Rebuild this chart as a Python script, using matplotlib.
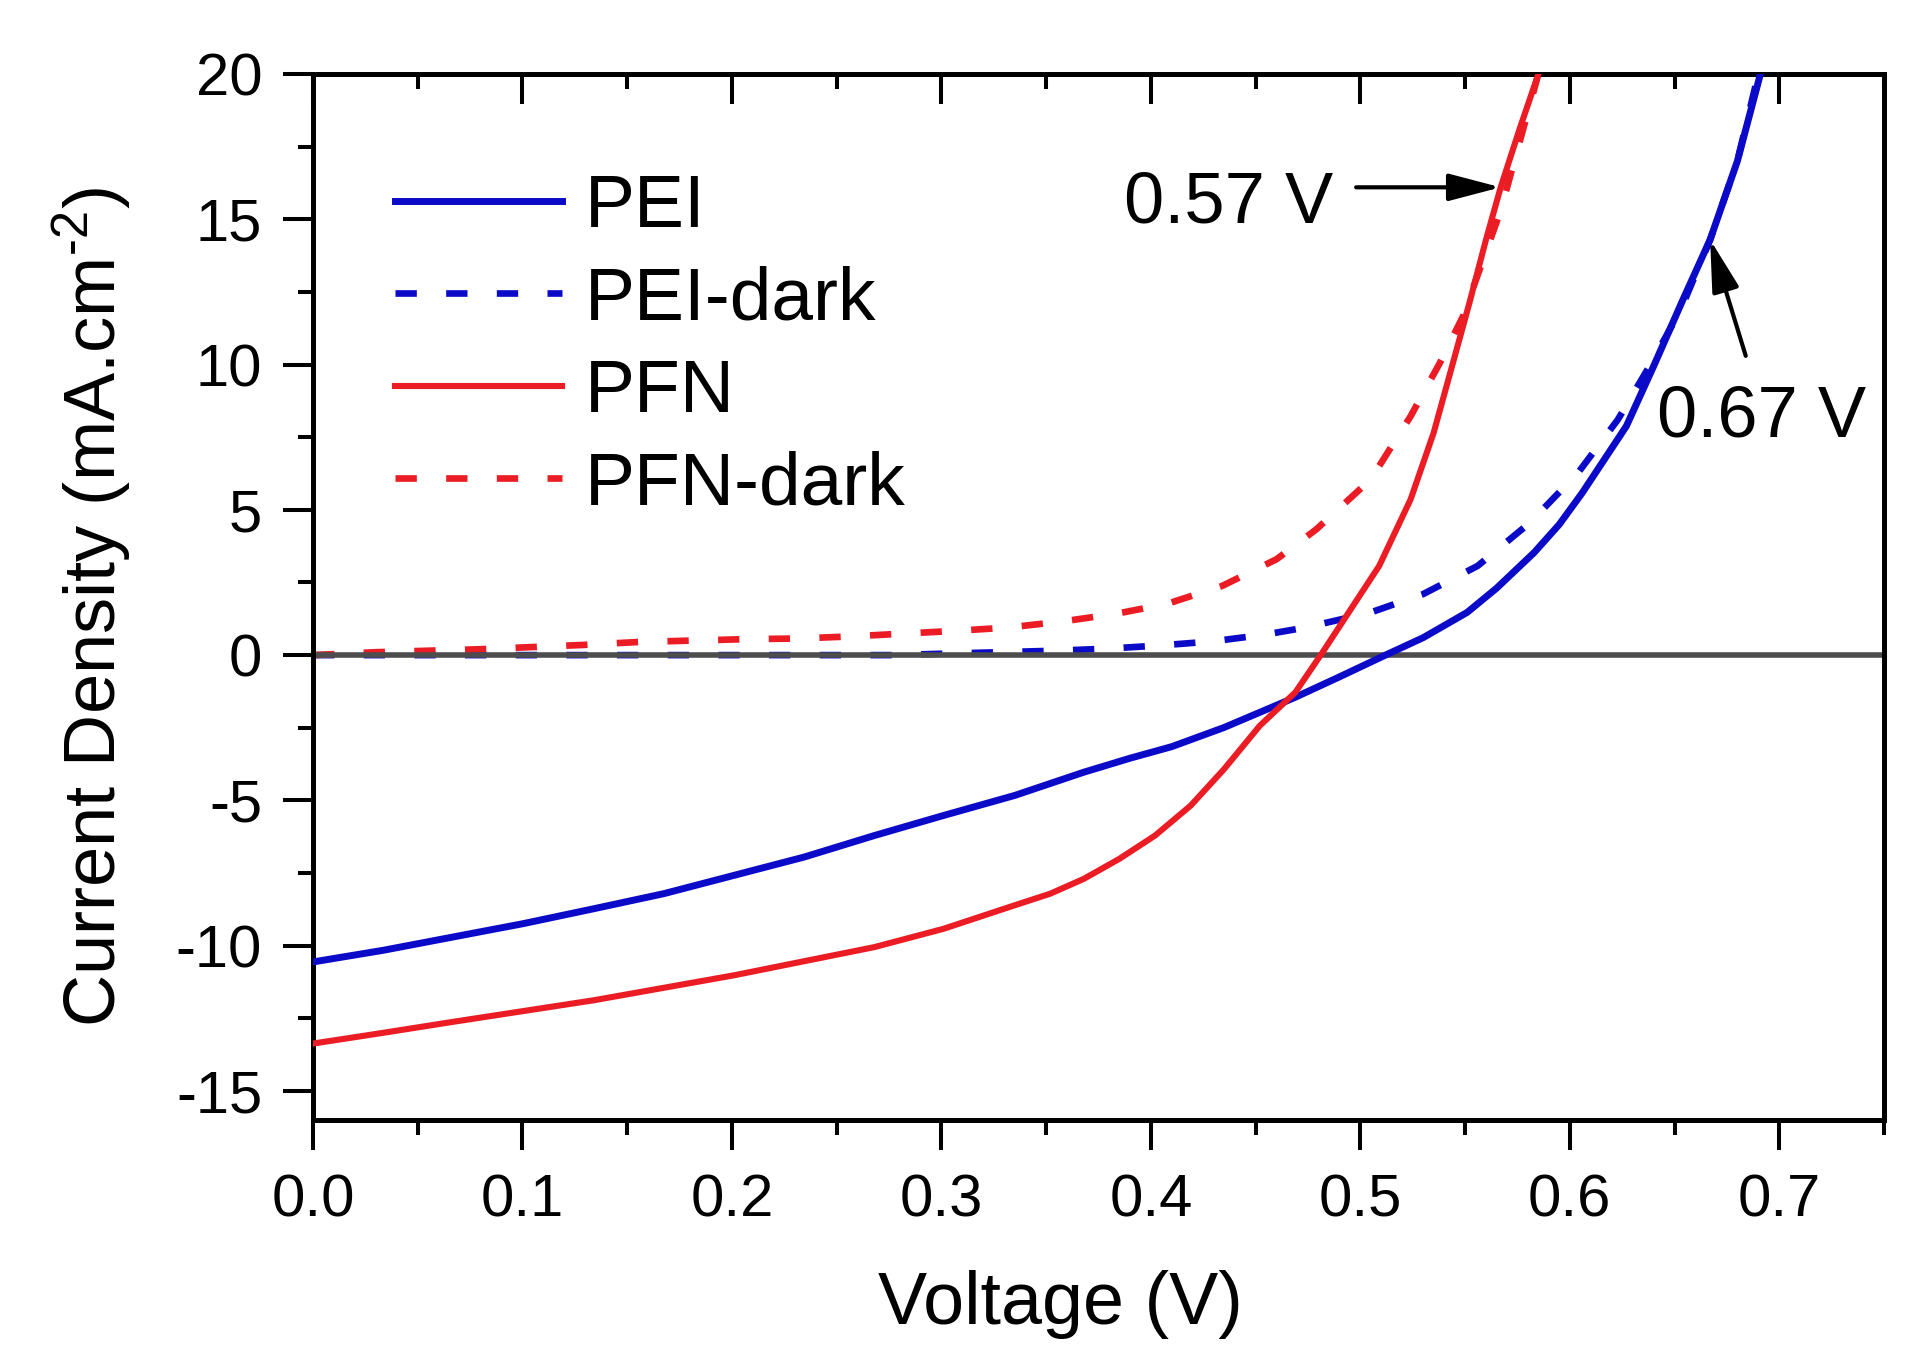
#!/usr/bin/env python3
"""
J-V curves of PEI and PFN devices, under light and in the dark.

Output: out.png (1924 x 1368 px)
"""

import matplotlib
matplotlib.use('Agg')

import matplotlib.pyplot as plt
from matplotlib.ticker import MultipleLocator

# Data (voltage in V, current density in mA/cm2)
PEI_V = [0.0, 0.0335, 0.067, 0.1005, 0.134, 0.1675, 0.201, 0.2345, 0.268, 0.301,
         0.335, 0.368, 0.39, 0.41, 0.435, 0.469, 0.490, 0.512, 0.530, 0.551,
         0.565, 0.583, 0.595, 0.606, 0.627, 0.640, 0.654, 0.667, 0.680, 0.691]
PEI_J = [-10.56, -10.16, -9.70, -9.24, -8.73, -8.21, -7.58, -6.95, -6.21, -5.52,
         -4.83, -4.03, -3.55, -3.15, -2.49, -1.45, -0.75, 0.0, 0.6, 1.47,
         2.3, 3.53, 4.5, 5.59, 7.88, 9.94, 12.23, 14.3, 17.0, 20.0]

PEI_DARK_V = [0.0, 0.277, 0.302, 0.328, 0.354, 0.379, 0.404, 0.429, 0.454, 0.474,
              0.505, 0.530, 0.556, 0.581, 0.604, 0.623, 0.638, 0.653, 0.667, 0.680,
              0.690]
PEI_DARK_J = [0.0, 0.0, 0.05, 0.1, 0.15, 0.22, 0.33, 0.47, 0.70, 0.95,
              1.47, 2.10, 3.07, 4.56, 6.28, 8.11, 9.94, 11.89, 14.3, 17.0,
              20.0]

PFN_V = [0.0, 0.0335, 0.067, 0.134, 0.201, 0.268, 0.301, 0.335, 0.352, 0.368,
         0.385, 0.402, 0.419, 0.435, 0.452, 0.469, 0.482, 0.509, 0.524, 0.535,
         0.544, 0.552, 0.560, 0.567, 0.576, 0.585]
PFN_J = [-13.37, -13.0, -12.62, -11.88, -11.02, -10.05, -9.42, -8.61, -8.21, -7.70,
         -7.01, -6.21, -5.18, -3.92, -2.43, -1.28, 0.1, 3.07, 5.36, 7.65,
         10.0, 12.1, 14.3, 16.1, 18.1, 20.0]

PFN_DARK_V = [0.0, 0.030, 0.079, 0.129, 0.155, 0.181, 0.207, 0.231, 0.256, 0.282,
              0.308, 0.332, 0.358, 0.384, 0.408, 0.434, 0.460, 0.479, 0.505, 0.524,
              0.538, 0.549, 0.567, 0.585]
PFN_DARK_J = [0.0, 0.1, 0.2, 0.35, 0.45, 0.5, 0.55, 0.57, 0.64, 0.74,
              0.84, 0.95, 1.16, 1.43, 1.77, 2.38, 3.30, 4.33, 6.05, 8.22,
              10.06, 11.66, 15.3, 20.0]

SERIES_LABELS = ['PEI', 'PEI-dark', 'PFN', 'PFN-dark']

# Voc annotations: (text, text position, arrow start, arrow tip)
VOC_NOTES = [
    ('0.57 V', (0.387, 14.88), (0.498, 16.1), (0.567, 16.1)),
    ('0.67 V', (0.6416, 7.53), (0.684, 10.3), (0.667, 14.3)),
]

X_LIM = (0.0, 0.75)
Y_LIM = (-16, 20)

# Colors
COLOR_BLUE = '#0A0AC8'
COLOR_RED = '#EC1C24'
COLOR_ZERO = '#4D4D4D'

FONT = 'Liberation Sans'
DASH = (0, (3.2, 4.4))
SPINE_W = 3.6
TICK_W = 2.9


def main():
    plt.rcParams['font.family'] = [FONT, 'DejaVu Sans']
    plt.rcParams['mathtext.fontset'] = 'custom'
    plt.rcParams['mathtext.rm'] = FONT
    plt.rcParams['mathtext.default'] = 'regular'
    plt.rcParams['axes.unicode_minus'] = False

    fig = plt.figure(figsize=(19.24, 13.68), dpi=100)
    ax = fig.add_axes([0.1627, 0.1813, 0.8165, 0.7646])

    ax.plot(PEI_V, PEI_J, color=COLOR_BLUE, lw=5.0, zorder=3, label=SERIES_LABELS[0])
    ax.plot(PEI_DARK_V, PEI_DARK_J, color=COLOR_BLUE, lw=4.8, ls=DASH, zorder=2,
            label=SERIES_LABELS[1])
    ax.plot(PFN_V, PFN_J, color=COLOR_RED, lw=4.4, zorder=3, label=SERIES_LABELS[2])
    ax.plot(PFN_DARK_V, PFN_DARK_J, color=COLOR_RED, lw=4.8, ls=DASH, zorder=2,
            label=SERIES_LABELS[3])

    # zero current line
    ax.axhline(0, color=COLOR_ZERO, lw=4.0, zorder=2.5)

    ax.set_xlim(*X_LIM)
    ax.set_ylim(*Y_LIM)

    ax.xaxis.set_major_locator(MultipleLocator(0.1))
    ax.xaxis.set_minor_locator(MultipleLocator(0.05))
    ax.yaxis.set_major_locator(MultipleLocator(5))
    ax.yaxis.set_minor_locator(MultipleLocator(2.5))
    ax.xaxis.set_major_formatter(lambda v, p: f'{v:.1f}')
    ax.yaxis.set_major_formatter(lambda v, p: f'{v:.0f}')

    for sp in ax.spines.values():
        sp.set_linewidth(SPINE_W)
        sp.set_color('black')

    ax.tick_params(axis='both', which='both', direction='out', width=TICK_W,
                   top=False, right=False, labelsize=43)
    ax.tick_params(which='major', length=21.6)
    ax.tick_params(which='minor', length=10.8)
    ax.tick_params(axis='x', pad=17)
    ax.tick_params(axis='y', pad=15)

    # inward ticks on the top edge
    top = ax.secondary_xaxis('top')
    top.xaxis.set_major_locator(MultipleLocator(0.1))
    top.xaxis.set_minor_locator(MultipleLocator(0.05))
    top.tick_params(which='both', direction='in', width=TICK_W, labeltop=False)
    top.tick_params(which='major', length=21.6)
    top.tick_params(which='minor', length=10.8)
    top.spines['top'].set_linewidth(SPINE_W)

    ax.set_xlabel('Voltage (V)', fontsize=53)
    ax.xaxis.set_label_coords(0.476, -0.1434)
    ax.set_ylabel(r'Current Density (mA.cm$^{\text{-2}}$)', fontsize=52)
    ax.yaxis.set_label_coords(-0.1146, 0.490)

    for text, pos, start, tip in VOC_NOTES:
        ax.text(pos[0], pos[1], text, fontsize=52, ha='left', va='baseline')
        ax.annotate('', xy=tip, xytext=start,
                    arrowprops=dict(arrowstyle='-|>,head_length=1.6,head_width=0.42',
                                    color='black', lw=3, mutation_scale=20,
                                    shrinkA=0, shrinkB=0))

    ax.legend(loc='upper left', bbox_to_anchor=(0.0522, 0.905), frameon=False,
              fontsize=54, handlelength=2.23, handletextpad=0.3,
              labelspacing=0.31, borderpad=0, borderaxespad=0)

    fig.savefig('out.png', dpi=100, facecolor='white')
    plt.close(fig)


if __name__ == '__main__':
    main()
